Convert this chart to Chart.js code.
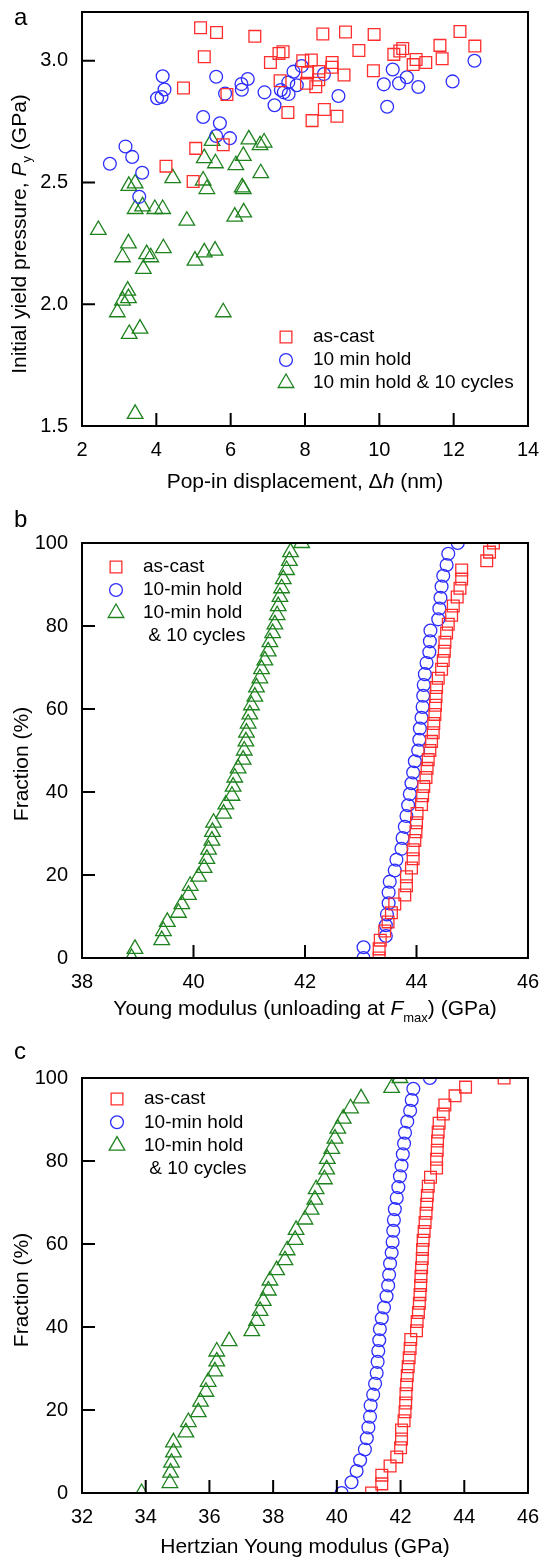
<!DOCTYPE html>
<html>
<head>
<meta charset="utf-8">
<script src="https://cdn.jsdelivr.net/npm/chart.js@4.4.0/dist/chart.umd.min.js"></script>
<style>
  html, body { margin: 0; padding: 0; background: #fff; }
  #page { position: relative; width: 541px; height: 1559px; overflow: hidden;
          font-family: "Liberation Sans", Arial, sans-serif; color: #000; }
  canvas { position: absolute; left: 0; }
  .lbl { position: absolute; white-space: nowrap; }
  .panel { font-size: 24px; line-height: 24px; left: 14px; }
  .xt { font-size: 21px; line-height: 21px; left: 305px; transform: translateX(-50%); }
  .yt { font-size: 21px; line-height: 21px; left: 20px; transform: translate(-50%, -50%) rotate(-90deg); }
  .sub { font-size: 13px; position: relative; top: 5px; }
</style>
</head>
<body>
<div id="page">
  <canvas id="chartA" width="541" height="505" style="top:0px"></canvas>
  <canvas id="chartB" width="541" height="515" style="top:505px"></canvas>
  <canvas id="chartC" width="541" height="539" style="top:1020px"></canvas>

  <div class="lbl panel" style="top:5px">a</div>
  <div class="lbl panel" style="top:507px">b</div>
  <div class="lbl panel" style="top:1039px">c</div>

  <div class="lbl xt" style="top:470px">Pop-in displacement, &Delta;<i>h</i> (nm)</div>
  <div class="lbl yt" style="top:234px">Initial yield pressure, <i>P</i><span class="sub">y</span> (GPa)</div>

  <div class="lbl xt" style="top:997px">Young modulus (unloading at <i>F</i><span class="sub" style="top:7px">max</span>) (GPa)</div>
  <div class="lbl yt" style="top:764px">Fraction (%)</div>

  <div class="lbl xt" style="top:1535px">Hertzian Young modulus (GPa)</div>
  <div class="lbl yt" style="top:1290px">Fraction (%)</div>
</div>

<script>
// ---- panel a: pop-in displacement (nm) vs initial yield pressure (GPa)
const asCastPop = [
  [5.19,3.135],[5.62,3.116],[6.65,3.10],[5.29,3.016],[8.48,3.11],[9.09,3.118],[9.86,3.108],
  [12.17,3.12],[12.57,3.06],[11.63,3.063],[11.69,3.008],[9.45,3.042],[10.39,3.026],[10.63,3.05],
  [10.55,3.04],[10.99,3.005],[11.25,2.993],[10.91,2.984],[9.84,2.959],[7.41,3.037],[7.30,3.03],
  [7.07,2.993],[7.94,3.0],[8.17,3.003],[8.73,2.993],[8.72,2.973],[8.37,2.956],[9.05,2.941],
  [8.07,2.95],[8.37,2.922],[8.29,2.893],[8.04,2.907],[7.33,2.918],[4.73,2.888],[5.90,2.861],
  [7.54,2.787],[8.52,2.80],[8.86,2.772],[8.19,2.754],[5.06,2.64],[5.80,2.655],[4.26,2.567],
  [4.99,2.504]
];
const holdPop = [
  [4.17,2.936],[4.22,2.882],[4.14,2.851],[4.02,2.846],[5.61,2.934],[5.85,2.865],[6.29,2.904],
  [6.46,2.925],[6.30,2.881],[6.91,2.87],[7.18,2.817],[7.35,2.88],[7.43,2.87],[7.56,2.863],
  [7.55,2.911],[7.78,2.899],[7.69,2.955],[7.91,2.978],[8.51,2.945],[8.90,2.855],[10.36,2.964],
  [10.12,2.903],[10.53,2.907],[10.74,2.932],[11.05,2.892],[10.21,2.811],[11.97,2.915],[12.56,3.0],
  [5.26,2.769],[5.71,2.743],[5.61,2.691],[5.98,2.682],[3.17,2.648],[3.35,2.605],[2.75,2.577],
  [3.62,2.54],[3.54,2.441]
];
const cyclesPop = [
  [5.50,2.671],[6.49,2.677],[6.79,2.653],[6.90,2.664],[5.29,2.60],[5.59,2.579],[6.34,2.609],
  [6.14,2.571],[6.81,2.538],[4.44,2.518],[3.26,2.486],[3.43,2.496],[5.26,2.508],[5.36,2.473],
  [6.31,2.48],[6.34,2.473],[3.43,2.391],[3.63,2.402],[3.96,2.391],[4.17,2.391],[4.82,2.343],
  [6.11,2.36],[6.35,2.377],[2.44,2.305],[3.25,2.25],[4.19,2.23],[3.74,2.206],[3.85,2.193],
  [3.09,2.193],[3.65,2.145],[5.29,2.213],[5.58,2.22],[5.04,2.179],[3.23,2.056],[3.25,2.025],
  [3.09,2.015],[2.95,1.967],[5.80,1.967],[3.56,1.90],[3.27,1.878],[3.43,1.55]
];
const xTicksA = [2, 4, 6, 8, 10, 12, 14];
const yTicksA = [1.5, 2.0, 2.5, 3.0];

const fraction47 = [0, 2.2, 4.3, 6.5, 8.7, 10.9, 13.0, 15.2, 17.4, 19.6, 21.7, 23.9, 26.1, 28.3, 30.4, 32.6,
  34.8, 37.0, 39.1, 41.3, 43.5, 45.7, 47.8, 50.0, 52.2, 54.3, 56.5, 58.7, 60.9, 63.0, 65.2, 67.4, 69.6,
  71.7, 73.9, 76.1, 78.3, 80.4, 82.6, 84.8, 87.0, 89.1, 91.3, 93.5, 95.7, 97.8, 100];
const fraction39 = [0, 2.6, 5.3, 7.9, 10.5, 13.2, 15.8, 18.4, 21.1, 23.7, 26.3, 28.9, 31.6, 34.2, 36.8, 39.5,
  42.1, 44.7, 47.4, 50.0, 52.6, 55.3, 57.9, 60.5, 63.2, 65.8, 68.4, 71.1, 73.7, 76.3, 78.9, 81.6, 84.2,
  86.8, 89.5, 92.1, 94.7, 97.4, 100];
const fraction42 = [0, 2.4, 4.9, 7.3, 9.8, 12.2, 14.6, 17.1, 19.5, 22.0, 24.4, 26.8, 29.3, 31.7, 34.1, 36.6,
  39.0, 41.5, 43.9, 46.3, 48.8, 51.2, 53.7, 56.1, 58.5, 61.0, 63.4, 65.9, 68.3, 70.7, 73.2, 75.6, 78.0,
  80.5, 82.9, 85.4, 87.8, 90.2, 92.7, 95.1, 97.6, 100];

// ---- panel b: Young modulus, unloading at Fmax (GPa)
const asCastUnload = [43.33, 43.33, 43.35, 43.43, 43.49, 43.55, 43.61, 43.79, 43.82, 43.82, 43.91, 43.94,
  43.94, 43.97, 43.99, 44.00, 44.01, 44.09, 44.11, 44.13, 44.17, 44.19, 44.21, 44.24, 44.27, 44.30, 44.31,
  44.33, 44.34, 44.35, 44.36, 44.39, 44.45, 44.48, 44.50, 44.51, 44.54, 44.57, 44.63, 44.66, 44.73, 44.78,
  44.81, 44.81, 45.26, 45.31, 45.38];
const holdUnload = [43.05, 43.05, 43.45, 43.45, 43.47, 43.50, 43.50, 43.52, 43.61, 43.64, 43.73, 43.75,
  43.79, 43.82, 43.85, 43.88, 43.91, 43.94, 43.97, 44.03, 44.05, 44.06, 44.09, 44.11, 44.12, 44.13, 44.15,
  44.18, 44.23, 44.24, 44.25, 44.39, 44.41, 44.43, 44.45, 44.48, 44.54, 44.57, 44.74];
const cyclesUnload = [38.89, 38.95, 39.43, 39.46, 39.53, 39.73, 39.79, 39.91, 39.94, 40.09, 40.19, 40.24,
  40.27, 40.33, 40.34, 40.36, 40.54, 40.58, 40.69, 40.71, 40.74, 40.80, 40.89, 40.91, 40.94, 40.95, 40.98,
  41.01, 41.04, 41.10, 41.13, 41.19, 41.22, 41.28, 41.34, 41.37, 41.42, 41.46, 41.50, 41.52, 41.55, 41.58,
  41.61, 41.67, 41.72, 41.74, 41.94];
const xTicksB = [38, 40, 42, 44, 46];
const yTicksB = [0, 20, 40, 60, 80, 100];

// ---- panel c: Hertzian Young modulus (GPa)
const asCastHertz = [41.09, 41.41, 41.41, 41.67, 41.88, 42.00, 42.03, 42.03, 42.11, 42.14, 42.16, 42.17,
  42.19, 42.21, 42.24, 42.27, 42.30, 42.32, 42.50, 42.52, 42.56, 42.59, 42.61, 42.63, 42.64, 42.66, 42.68,
  42.69, 42.71, 42.74, 42.77, 42.80, 42.82, 42.84, 42.87, 42.94, 43.13, 43.13, 43.15, 43.16, 43.18, 43.21,
  43.34, 43.39, 43.71, 44.04, 45.25];
const holdHertz = [40.15, 40.46, 40.62, 40.73, 40.88, 40.94, 40.99, 41.04, 41.06, 41.14, 41.20, 41.25,
  41.28, 41.30, 41.33, 41.35, 41.41, 41.48, 41.56, 41.61, 41.64, 41.67, 41.72, 41.75, 41.77, 41.79, 41.82,
  41.88, 41.93, 41.98, 42.03, 42.07, 42.11, 42.14, 42.21, 42.30, 42.35, 42.40, 42.92];
const cyclesHertz = [33.87, 34.76, 34.78, 34.81, 34.87, 34.87, 35.26, 35.34, 35.65, 35.72, 35.89, 35.96,
  36.17, 36.23, 36.23, 36.62, 37.33, 37.48, 37.59, 37.69, 37.85, 37.90, 38.11, 38.37, 38.44, 38.69, 38.72,
  39.00, 39.19, 39.31, 39.35, 39.61, 39.68, 39.70, 39.84, 39.94, 40.03, 40.20, 40.43, 40.76, 41.72, 41.98];
const xTicksC = [32, 34, 36, 38, 40, 42, 44, 46];
const yTicksC = [0, 20, 40, 60, 80, 100];

const legendA = ['as-cast', '10 min hold', '10 min hold & 10 cycles'];
const legendBC = ['as-cast', '10-min hold', '10-min hold\n & 10 cycles'];

// ---- styling
const FONT = '"Liberation Sans", Arial, sans-serif';
const RED = 'rgb(255,45,45)';
const BLUE = 'rgb(45,45,255)';
const GREEN = 'rgb(30,130,30)';
const MARKERS = [
  { style: 'rect', color: RED, radius: 8.3 },
  { style: 'circle', color: BLUE, radius: 6.4 },
  { style: 'triangle', color: GREEN, radius: 9 }
];

function seriesSet(seriesList) {
  return seriesList.map((pts, i) => ({
    data: pts,
    pointStyle: MARKERS[i].style,
    pointRadius: MARKERS[i].radius,
    pointHoverRadius: MARKERS[i].radius,
    pointBorderWidth: 1.3,
    pointBorderColor: MARKERS[i].color,
    pointBackgroundColor: 'rgba(0,0,0,0)',
    showLine: false,
    clip: 0
  }));
}

function drawMarker(ctx, m, x, y) {
  ctx.save();
  ctx.strokeStyle = m.color;
  ctx.fillStyle = 'rgba(0,0,0,0)';
  ctx.lineWidth = 1.3;
  Chart.helpers.drawPoint(ctx, { pointStyle: m.style, radius: m.radius, rotation: 0, borderWidth: 1.3 }, x, y);
  ctx.restore();
}

// box frame, inward tick marks and the legend
const framePlugin = {
  id: 'frame',
  afterDraw(chart, args, opts) {
    const { ctx, chartArea: a, scales: { x, y } } = chart;
    ctx.save();
    ctx.strokeStyle = '#000';
    ctx.lineWidth = 2;
    ctx.strokeRect(a.left, a.top, a.right - a.left, a.bottom - a.top);
    ctx.beginPath();
    opts.xTicks.filter(v => v > x.min && v < x.max).forEach(v => {
      const px = x.getPixelForValue(v);
      ctx.moveTo(px, a.bottom);
      ctx.lineTo(px, a.bottom - 13);
    });
    opts.yTicks.filter(v => v > y.min && v < y.max).forEach(v => {
      const py = y.getPixelForValue(v);
      ctx.moveTo(a.left, py);
      ctx.lineTo(a.left + 13, py);
    });
    ctx.stroke();

    const lg = opts.legend;
    ctx.fillStyle = '#000';
    ctx.font = '19px ' + FONT;
    ctx.textBaseline = 'middle';
    ctx.textAlign = 'left';
    let row = 0;
    lg.labels.forEach((txt, i) => {
      drawMarker(ctx, MARKERS[i], lg.markerX, lg.top + row * lg.step);
      txt.split('\n').forEach(line => {
        ctx.fillText(line, lg.textX, lg.top + row * lg.step);
        row++;
      });
    });
    ctx.restore();
  }
};

function makeChart(id, datasets, o) {
  const fmt = o.fmt || (v => String(v));
  new Chart(document.getElementById(id), {
    type: 'scatter',
    data: { datasets },
    plugins: [framePlugin],
    options: {
      responsive: false,
      animation: false,
      devicePixelRatio: 1,
      layout: { padding: { left: 0, right: 13, top: o.top, bottom: 0 } },
      scales: {
        x: {
          type: 'linear', min: o.xTicks[0], max: o.xTicks[o.xTicks.length - 1],
          afterBuildTicks: s => { s.ticks = o.xTicks.map(v => ({ value: v })); },
          afterFit: s => { s.height = o.xAxisH; s.paddingLeft = 0; s.paddingRight = 0; },
          grid: { display: false, drawTicks: false },
          border: { display: false },
          ticks: { padding: 12, color: '#000', font: { size: 20, family: FONT }, maxRotation: 0, autoSkip: false,
                   callback: v => String(v) }
        },
        y: {
          type: 'linear', min: o.yMin, max: o.yMax,
          afterBuildTicks: s => { s.ticks = o.yTicks.map(v => ({ value: v })); },
          afterFit: s => { s.width = 82; s.paddingTop = 0; s.paddingBottom = 0; },
          grid: { display: false, drawTicks: false },
          border: { display: false },
          ticks: { padding: 14, color: '#000', font: { size: 20, family: FONT }, autoSkip: false,
                   callback: v => fmt(v) }
        }
      },
      plugins: {
        legend: { display: false },
        tooltip: { enabled: false },
        frame: { xTicks: o.xTicks, yTicks: o.yTicks, legend: o.legend }
      }
    }
  });
}

const toXY = pairs => pairs.map(p => ({ x: p[0], y: p[1] }));
const toCdf = (vals, frac) => vals.map((v, i) => ({ x: v, y: frac[i] }));

makeChart('chartA', seriesSet([toXY(asCastPop), toXY(holdPop), toXY(cyclesPop)]), {
  top: 12, xAxisH: 79, xTicks: xTicksA, yTicks: yTicksA, yMin: 1.5, yMax: 3.2,
  fmt: v => v.toFixed(1),
  legend: { labels: legendA, markerX: 286, textX: 313, top: 337, step: 23 }
});

makeChart('chartB', seriesSet([
  toCdf(asCastUnload, fraction47), toCdf(holdUnload, fraction39), toCdf(cyclesUnload, fraction47)
]), {
  top: 38, xAxisH: 62, xTicks: xTicksB, yTicks: yTicksB, yMin: 0, yMax: 100,
  legend: { labels: legendBC, markerX: 116, textX: 143, top: 62, step: 23 }
});

makeChart('chartC', seriesSet([
  toCdf(asCastHertz, fraction47), toCdf(holdHertz, fraction39), toCdf(cyclesHertz, fraction42)
]), {
  top: 58, xAxisH: 66, xTicks: xTicksC, yTicks: yTicksC, yMin: 0, yMax: 100,
  legend: { labels: legendBC, markerX: 117, textX: 144, top: 79, step: 23.3 }
});
</script>
</body>
</html>
